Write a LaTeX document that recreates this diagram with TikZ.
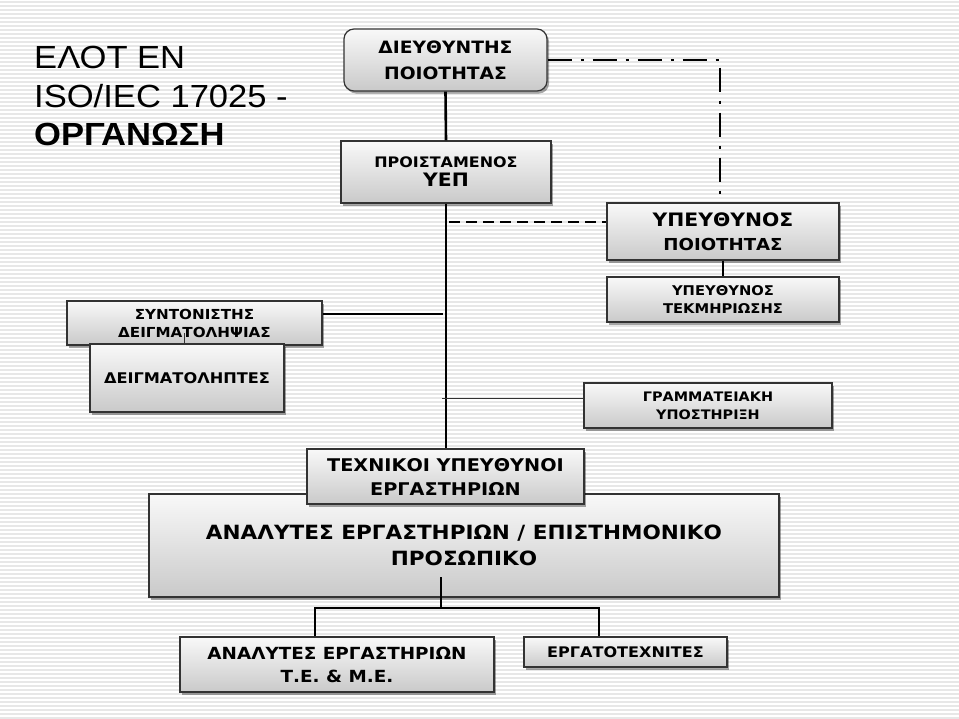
\documentclass[tikz,border=0pt]{standalone}
\usepackage{fontspec}
\usetikzlibrary{shadows,calc}
\newfontfamily\bx{DejaVu Sans}[FakeStretch=1.1]
\newfontfamily\tf{Liberation Sans}[FakeStretch=1.08]
\newcommand\fs[2]{\fontsize{#1}{#2}\selectfont}
\tikzset{
  box/.style={draw=black!80, line width=1.2pt, top color=gray!5, bottom color=gray!42,
    drop shadow={shadow xshift=2pt, shadow yshift=-2.5pt, opacity=0.35, fill=black},
    align=center, inner sep=0pt, text=black},
  bf/.style={font=\bx\bfseries\fs{#1}{#1*1.4}},
  conn/.style={line width=2.6pt, black},
  thinconn/.style={line width=1pt, black!80},
  stripe/.style={gray!19, line width=1.3pt},
  titletext/.style={anchor=base west, inner sep=0pt, text=black},
}
\begin{document}
\begin{tikzpicture}[x=1pt,y=-1pt]
\useasboundingbox (0,0) rectangle (959,718);
\fill[white] (0,0) rectangle (959,718);
\foreach \i in {0,...,179} \draw[stripe] (0,4*\i+2) -- (959,4*\i+2);

% title
\node[titletext, font=\tf\fs{32}{38}] (t1) at (34,68) {ΕΛΟΤ ΕΝ};
\node[titletext, font=\tf\fs{32}{38}] (t2) at (34,107) {ISO/IEC 17025 -};
\node[titletext, font=\tf\bfseries\fs{32}{38}] (t3) at (34,145) {ΟΡΓΑΝΩΣΗ};

% boxes
\node[box, rounded corners=10pt, minimum width=203pt, minimum height=62pt,
  font=\bx\bfseries\fs{17}{26}] (dir) at (445.5,60)
  {ΔΙΕΥΘΥΝΤΗΣ\\ΠΟΙΟΤΗΤΑΣ};
\node[box, minimum width=210pt, minimum height=62pt,
  font=\bx\bfseries\fs{14.5}{19}] (pro) at (446,172)
  {ΠΡΟΙΣΤΑΜΕΝΟΣ\\{\fs{18.5}{19}ΥΕΠ}};
\node[box, minimum width=232pt, minimum height=57pt,
  font=\bx\bfseries\fs{16.5}{24}] (ypq) at (723,231.5)
  {{\fs{18.5}{24}ΥΠΕΥΘΥΝΟΣ}\\ΠΟΙΟΤΗΤΑΣ};
\node[box, minimum width=232pt, minimum height=45pt,
  font=\bx\bfseries\fs{13.4}{18}] (tek) at (723,299.5)
  {ΥΠΕΥΘΥΝΟΣ\\ΤΕΚΜΗΡΙΩΣΗΣ};
\node[box, minimum width=248pt, minimum height=45pt,
  font=\bx\bfseries\fs{13.1}{18}] (gram) at (708,405.5)
  {ΓΡΑΜΜΑΤΕΙΑΚΗ\\ΥΠΟΣΤΗΡΙΞΗ};
\node[box, minimum width=255pt, minimum height=44pt,
  font=\bx\bfseries\fs{13.8}{18}] (syn) at (194.5,323)
  {ΣΥΝΤΟΝΙΣΤΗΣ\\ΔΕΙΓΜΑΤΟΛΗΨΙΑΣ};
\coordinate (sl) at (184,333);
\draw[thinconn] (sl) -- (sl |- 0,346);
\node[box, minimum width=194pt, minimum height=68pt,
  font=\bx\bfseries\fs{14.7}{18}] (deig) at (187,378)
  {ΔΕΙΓΜΑΤΟΛΗΠΤΕΣ};
\node[box, minimum width=630pt, minimum height=103pt,
  font=\bx\bfseries\fs{19.6}{26}] (big) at (464,545.5)
  {ΑΝΑΛΥΤΕΣ ΕΡΓΑΣΤΗΡΙΩΝ / ΕΠΙΣΤΗΜΟΝΙΚΟ\\ΠΡΟΣΩΠΙΚΟ};
\node[box, minimum width=277pt, minimum height=55pt,
  font=\bx\bfseries\fs{17.5}{24}] (tech) at (445.5,476.5)
  {ΤΕΧΝΙΚΟΙ ΥΠΕΥΘΥΝΟΙ\\ΕΡΓΑΣΤΗΡΙΩΝ};
\node[box, minimum width=314pt, minimum height=55pt,
  font=\bx\bfseries\fs{16.7}{23}] (an) at (337,664.5)
  {ΑΝΑΛΥΤΕΣ ΕΡΓΑΣΤΗΡΙΩΝ\\Τ.Ε. \& Μ.Ε.};
\node[box, minimum width=203pt, minimum height=30pt,
  font=\bx\bfseries\fs{14.6}{18}] (erg) at (625.5,652)
  {ΕΡΓΑΤΟΤΕΧΝΙΤΕΣ};

% connectors
\draw[conn] (dir.south) -- (pro.north);
\draw[conn] (pro.south) -- (pro.south |- tech.north);
\draw[conn] (syn.east |- 0,314) -- ($(pro.south |- 0,314)+(-3,0)$);
\draw[thinconn] ($(pro.south |- 0,398)+(-4,0)$) -- (gram.west |- 0,398);
\draw[conn, dash pattern=on 11pt off 6pt] ($(pro.south |- 0,222)+(3,0)$) -- (ypq.west |- 0,222);
\coordinate (dd) at (720,60);
\draw[conn, dash pattern=on 24pt off 9pt on 3pt off 9pt] (dir.east) -| (ypq.north -| dd);
\draw[conn] (ypq.south) -- (tek.north);

\coordinate (b0) at (441,577);
\coordinate (j) at (441,608);
\coordinate (jl) at (315,608);
\coordinate (jr) at (599,608);
\draw[conn] (b0) -- (j);
\draw[conn, line join=miter] (an.north -| jl) -- (jl) -- (jr) -- (erg.north -| jr);
\end{tikzpicture}
\end{document}
